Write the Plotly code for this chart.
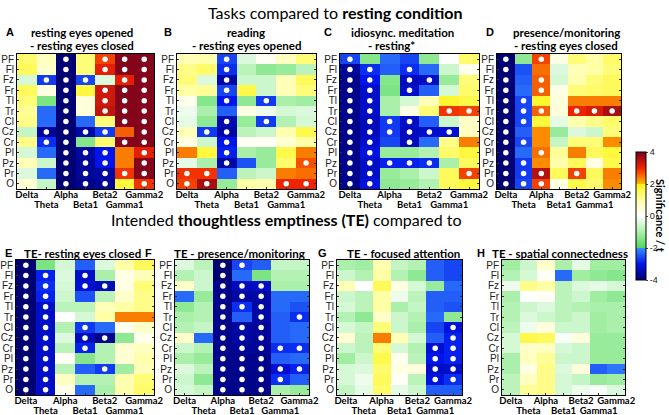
import plotly.graph_objects as go

W, H = 669, 415

bands = ["Delta", "Theta", "Alpha", "Beta1", "Beta2", "Gamma1", "Gamma2"]
channels = ["PF", "Fl", "Fz", "Fr", "Tl", "Tr", "Cl", "Cz", "Cr", "Pl", "Pz", "Pr", "O"]

# ---- values (t), rows = channels, cols = bands ----
vals_A = [
    [1.4, 0.7, -4.0, 1.3, 2.8, 3.9, 3.9],
    [1.5, 0.6, -4.0, 1.3, 3.1, 3.9, 3.9],
    [-0.5, -2.7, -4.0, -2.6, -0.4, 3.1, 3.9],
    [1.5, 0.3, -4.0, 1.7, 3.3, 3.9, 3.9],
    [1.3, -1.5, -4.0, 0.4, 3.3, 3.9, 3.9],
    [1.1, -2.3, -4.0, 0.4, 3.4, 3.9, 3.9],
    [1.2, -2.3, -4.0, -2.3, 1.3, 3.9, 3.9],
    [-0.7, -3.7, -4.0, -3.6, -2.7, 2.6, 3.9],
    [1.2, -2.8, -4.0, -1.4, 1.4, 3.9, 3.9],
    [-0.5, -2.3, -4.0, -3.6, -3.0, 2.4, 3.1],
    [0.8, -0.6, -4.0, -3.7, -3.0, 2.4, 3.9],
    [-0.4, -2.3, -4.0, -3.7, -3.6, 2.9, 3.9],
    [0.5, -0.7, -4.0, -3.8, -3.7, 1.7, 2.9],
]
vals_B = [
    [0.8, 0.9, -2.6, -0.4, 0.1, 0.7, 1.3],
    [1.2, 1.4, -2.8, -0.8, -1.3, -1.2, -0.8],
    [1.3, -0.4, -3.6, -0.6, -0.6, 0.8, 1.5],
    [1.0, 1.1, -2.6, 1.6, -0.6, 0.8, 1.3],
    [0.2, -1.4, -3.0, -1.3, -2.7, -1.0, -1.1],
    [-0.2, -1.0, -2.4, 0.3, -0.2, -0.5, -0.4],
    [-0.3, -1.3, -3.5, -1.2, -2.7, -0.9, -0.5],
    [0.8, -2.7, -3.6, -0.8, -0.6, 0.9, 1.6],
    [0.3, -0.6, -3.0, 0.1, 0.1, 0.5, 1.0],
    [2.4, 1.7, -2.9, -1.0, -1.2, 1.6, 2.4],
    [-0.3, -1.0, -3.6, -2.5, -1.2, 1.4, 2.7],
    [2.9, 2.9, -2.4, -0.8, -0.6, 2.4, 2.5],
    [2.8, 3.6, -1.2, 1.0, 0.9, 3.0, 3.0],
]
vals_C = [
    [-2.6, -1.4, -2.3, -2.6, -1.3, 0.0, 1.4],
    [-3.7, -2.8, -2.4, -2.8, -2.3, -0.6, 0.2],
    [-3.8, -3.0, -1.4, -3.4, -3.3, -1.2, 1.3],
    [-3.8, -3.3, -1.5, -3.3, -2.4, -0.5, 1.4],
    [-3.8, -3.3, -1.0, -0.5, 0.8, 1.8, 1.6],
    [-3.8, -3.3, -1.0, 0.3, 1.3, 2.9, 2.8],
    [-3.8, -3.4, -2.7, -3.3, -2.4, -0.6, 0.6],
    [-3.8, -3.4, -2.7, -3.4, -3.3, -3.2, 0.7],
    [-3.8, -3.3, -2.6, -3.4, -2.3, 1.2, 2.4],
    [-3.8, -3.1, -1.2, -1.2, -0.9, 1.4, 1.7],
    [-3.8, -3.3, -2.9, -2.9, -2.8, -1.0, 1.5],
    [-3.8, -3.3, -1.2, -1.0, -0.6, 1.5, 2.8],
    [-3.8, -3.1, -1.3, -1.2, -0.9, 1.5, 1.7],
]
vals_D = [
    [-4.0, -1.3, 2.8, 0.3, 1.3, 1.0, 1.4],
    [-4.0, -2.5, 2.5, -0.4, 0.8, 1.0, 1.3],
    [-4.0, -2.4, 2.6, -0.5, 0.9, 1.3, 1.5],
    [-4.0, -2.3, 2.6, 0.3, 1.3, 1.4, 1.5],
    [-4.0, -2.6, 1.8, 0.4, 2.4, 2.4, 2.4],
    [-4.0, -2.6, 2.6, 0.4, 3.0, 3.2, 3.6],
    [-4.0, -2.6, 1.7, -0.3, 0.9, 1.2, 1.4],
    [-4.0, -2.4, 2.3, -1.2, -0.4, -0.6, 1.3],
    [-4.0, -2.6, 2.3, -0.7, 1.3, 1.3, 2.3],
    [-4.0, -2.3, 2.5, 1.1, 2.4, 1.5, 1.7],
    [-4.0, -2.7, 2.3, 0.9, 1.5, 0.3, 1.6],
    [-4.0, -2.7, 3.5, 1.5, 2.8, 1.5, 2.4],
    [-4.0, -2.6, 2.8, 0.3, 1.6, 1.4, 2.3],
]
vals_E = [
    [-4.0, -1.5, -0.5, -2.4, -0.4, 1.0, 1.5],
    [-4.0, -2.9, -0.4, -3.3, -1.0, 0.3, 0.8],
    [-4.0, -2.8, -0.5, -3.2, -3.4, 0.3, 1.3],
    [-4.0, -2.9, -0.6, -2.5, -0.8, 0.6, 1.2],
    [-4.0, -3.3, -0.8, -0.8, 0.8, 1.0, 1.2],
    [-4.0, -3.3, 0.0, -0.5, 1.0, 2.4, 2.4],
    [-4.0, -3.3, -0.9, -2.7, -2.3, 0.2, 0.6],
    [-4.0, -3.3, -0.4, -3.4, -3.8, -1.3, 0.2],
    [-4.0, -3.3, -0.8, -2.9, -0.9, 0.5, 0.7],
    [-4.0, -3.3, 0.1, -1.4, -0.9, 0.5, 0.9],
    [-4.0, -3.3, -0.8, -2.4, -2.7, -1.1, 0.8],
    [-4.0, -3.3, 0.7, -0.9, -0.9, 0.9, 1.3],
    [-4.0, -3.3, 0.2, -2.3, -1.0, 0.9, 1.4],
]
vals_F = [
    [-0.4, -0.8, -4.0, -2.6, -2.4, -0.7, -0.7],
    [-0.9, -0.6, -4.0, -2.3, -1.5, -0.9, -0.9],
    [0.6, -0.6, -3.8, -3.4, -3.3, -1.0, -1.0],
    [-2.3, -1.2, -3.8, -3.6, -3.6, -2.3, -2.3],
    [-1.3, -0.9, -3.8, -2.8, -3.6, -2.3, -2.5],
    [-1.0, -0.9, -3.8, -2.4, -3.6, -2.4, -2.8],
    [-0.9, -0.7, -3.8, -3.6, -3.7, -2.4, -2.3],
    [0.6, -2.3, -3.8, -3.6, -3.7, -2.4, -2.3],
    [-0.6, -0.9, -3.8, -3.7, -3.7, -2.8, -2.8],
    [-1.0, -1.2, -3.8, -3.8, -3.8, -2.4, -2.3],
    [-0.4, -0.8, -3.8, -3.8, -3.8, -3.2, -2.9],
    [-0.6, -1.3, -3.8, -3.8, -3.8, -2.8, -2.4],
    [-0.5, -0.7, -3.8, -3.8, -3.8, -1.0, -1.2],
]
vals_G = [
    [-1.0, -1.1, 0.9, -0.7, -0.9, -2.4, -2.6],
    [-0.6, -0.9, 1.0, -0.9, -1.3, -2.4, -2.6],
    [0.8, 0.0, 1.5, 0.3, -0.5, -1.2, -2.3],
    [-0.6, -0.8, 1.0, -0.2, -0.8, -2.4, -2.4],
    [-0.5, -0.8, 1.0, -1.0, -0.7, -2.4, -2.5],
    [-0.9, -1.3, 0.6, -0.6, -0.9, -2.3, -1.3],
    [-0.5, -0.7, 1.3, -0.6, -1.0, -2.6, -3.1],
    [0.5, -0.8, 2.4, 0.8, -0.5, -2.4, -2.9],
    [-0.6, -0.8, 1.3, -0.5, -0.9, -3.2, -2.9],
    [-1.1, -0.6, 1.6, 0.2, -0.8, -3.0, -2.9],
    [-0.5, -0.4, 1.4, 0.3, 0.4, -3.3, -3.3],
    [-0.5, -0.2, 1.5, 0.1, -0.8, -3.1, -2.8],
    [-0.7, -0.3, 1.4, -0.3, -0.6, -2.4, -2.4],
]
vals_H = [
    [-1.1, -0.6, 0.6, -1.0, -0.3, -1.1, -1.1],
    [-0.9, -0.5, 0.1, -2.3, -1.1, -1.3, -1.4],
    [-0.2, 1.2, 1.0, -0.8, -0.4, -0.3, -0.5],
    [-1.0, 0.0, 0.1, -0.8, -0.6, -1.1, -1.3],
    [-0.9, -0.6, -0.4, -0.8, -0.9, -1.0, -1.0],
    [-0.9, -0.4, -0.6, -0.8, -0.6, -1.1, -1.0],
    [-0.8, -0.2, 0.4, -0.6, -0.6, -1.1, -1.0],
    [-0.5, 1.6, 1.5, -0.1, 0.4, -1.2, -1.2],
    [-0.5, 0.6, 0.7, -0.5, -0.6, -1.2, -1.2],
    [-1.0, 0.7, 1.1, -0.6, -0.6, -1.2, -1.2],
    [-1.0, 0.3, 1.2, -0.4, 0.4, -2.4, -2.2],
    [-0.8, 0.7, 1.2, -0.5, -0.7, -1.2, -1.1],
    [-0.8, 1.1, 1.2, -0.5, -0.2, -0.1, -0.4],
]

# ---- significance marks (1 = white dot) ----
sig_A = [
    [0, 0, 1, 0, 1, 1, 1], [0, 0, 1, 0, 1, 1, 1], [0, 1, 1, 1, 0, 1, 1],
    [0, 0, 1, 0, 1, 1, 1], [0, 0, 1, 0, 1, 1, 1], [0, 0, 1, 0, 1, 1, 1],
    [0, 0, 1, 0, 0, 1, 1], [0, 1, 1, 1, 1, 0, 1], [0, 1, 1, 0, 0, 1, 1],
    [0, 0, 1, 1, 1, 0, 1], [0, 0, 1, 1, 1, 0, 1], [0, 0, 1, 1, 1, 1, 1],
    [0, 0, 1, 1, 1, 0, 1],
]
sig_B = [
    [0, 0, 1, 0, 0, 0, 0], [0, 0, 1, 0, 0, 0, 0], [0, 0, 1, 0, 0, 0, 0],
    [0, 0, 1, 0, 0, 0, 0], [0, 0, 1, 0, 1, 0, 0], [0, 0, 0, 0, 0, 0, 0],
    [0, 0, 1, 0, 1, 0, 0], [0, 1, 1, 0, 0, 0, 0], [0, 0, 1, 0, 0, 0, 0],
    [0, 0, 1, 0, 0, 0, 0], [0, 0, 1, 0, 0, 0, 1], [1, 1, 0, 0, 0, 0, 0],
    [1, 1, 0, 0, 0, 1, 1],
]
sig_C = [
    [1, 0, 0, 0, 0, 0, 0], [1, 1, 0, 1, 0, 0, 0], [1, 1, 0, 1, 1, 0, 0],
    [1, 1, 0, 1, 0, 0, 0], [1, 1, 0, 0, 0, 0, 0], [1, 1, 0, 0, 0, 1, 1],
    [1, 1, 1, 1, 0, 0, 0], [1, 1, 1, 1, 1, 1, 0], [1, 1, 0, 1, 0, 0, 0],
    [1, 1, 0, 0, 0, 0, 0], [1, 1, 1, 1, 1, 0, 0], [1, 1, 0, 0, 0, 0, 1],
    [1, 1, 0, 0, 0, 0, 0],
]
sig_D = [
    [1, 0, 1, 0, 0, 0, 0], [1, 0, 0, 0, 0, 0, 0], [1, 0, 1, 0, 0, 0, 0],
    [1, 0, 1, 0, 0, 0, 0], [1, 1, 0, 0, 0, 0, 0], [1, 1, 1, 0, 1, 1, 1],
    [1, 1, 0, 0, 0, 0, 0], [1, 0, 0, 0, 0, 0, 0], [1, 1, 0, 0, 0, 0, 0],
    [1, 0, 1, 0, 0, 0, 0], [1, 1, 0, 0, 0, 0, 0], [1, 1, 1, 0, 1, 0, 0],
    [1, 1, 1, 0, 0, 0, 0],
]
sig_E = [
    [1, 0, 0, 0, 0, 0, 0], [1, 1, 0, 1, 0, 0, 0], [1, 1, 0, 1, 1, 0, 0],
    [1, 1, 0, 0, 0, 0, 0], [1, 1, 0, 0, 0, 0, 0], [1, 1, 0, 0, 0, 0, 0],
    [1, 1, 0, 1, 0, 0, 0], [1, 1, 0, 1, 1, 0, 0], [1, 1, 0, 1, 0, 0, 0],
    [1, 1, 0, 0, 0, 0, 0], [1, 1, 0, 0, 1, 0, 0], [1, 1, 0, 0, 0, 0, 0],
    [1, 1, 0, 0, 0, 0, 0],
]
sig_F = [
    [0, 0, 1, 1, 0, 0, 0], [0, 0, 1, 0, 0, 0, 0], [0, 0, 1, 1, 1, 0, 0],
    [0, 0, 1, 1, 1, 0, 0], [0, 0, 1, 1, 1, 0, 0], [0, 0, 1, 0, 1, 0, 1],
    [0, 0, 1, 1, 1, 0, 0], [0, 0, 1, 1, 1, 0, 0], [0, 0, 1, 1, 1, 1, 1],
    [0, 0, 1, 1, 1, 0, 0], [0, 0, 1, 1, 1, 1, 1], [0, 0, 1, 1, 1, 1, 0],
    [0, 0, 1, 1, 1, 0, 0],
]
sig_G = [
    [0] * 7, [0] * 7, [0] * 7, [0] * 7, [0] * 7, [0] * 7,
    [0, 0, 0, 0, 0, 0, 1], [0, 0, 0, 0, 0, 0, 1], [0, 0, 0, 0, 0, 1, 1],
    [0, 0, 0, 0, 0, 1, 1], [0, 0, 0, 0, 0, 1, 1], [0, 0, 0, 0, 0, 1, 1],
    [0] * 7,
]
sig_H = [[0] * 7 for _ in range(13)]

titles_top = [
    ("A", "resting eyes opened", "- resting eyes closed"),
    ("B", "reading", "- resting eyes opened"),
    ("C", "idiosync. meditation", "- resting*"),
    ("D", "presence/monitoring", "- resting eyes closed"),
]
titles_bottom = [
    ("E", "TE- resting eyes closed"),
    ("F", "TE - presence/monitoring"),
    ("G", "TE - focused attention"),
    ("H", "TE - spatial connectedness"),
]

cb_ticks = [-4, -2, 0, 2, 4]

# ---- layout geometry (pixels) ----
panels = [
    (vals_A, sig_A, (17, 154), (54, 189)),
    (vals_B, sig_B, (177, 316), (54, 189)),
    (vals_C, sig_C, (340, 479), (54, 189)),
    (vals_D, sig_D, (497, 621), (54, 189)),
    (vals_E, sig_E, (16, 154), (260, 395)),
    (vals_F, sig_F, (175, 309), (260, 395)),
    (vals_G, sig_G, (337, 462), (260, 395)),
    (vals_H, sig_H, (502, 625), (260, 395)),
]


def px(x):
    return x / W


def py(y):
    return 1 - y / H


colorscale = [
    [0.0, "rgb(0,0,115)"],
    [0.125, "rgb(0,20,235)"],
    [0.247, "rgb(55,140,255)"],
    [0.25, "rgb(80,215,95)"],
    [0.375, "rgb(170,240,170)"],
    [0.5, "rgb(255,255,255)"],
    [0.625, "rgb(255,255,165)"],
    [0.747, "rgb(255,245,20)"],
    [0.75, "rgb(255,185,0)"],
    [0.875, "rgb(240,35,0)"],
    [1.0, "rgb(120,0,30)"],
]

fig = go.Figure()

even_text = ["<b>%s</b>" % b if i % 2 == 0 else "" for i, b in enumerate(bands)]
odd_bands = [b for i, b in enumerate(bands) if i % 2 == 1]
odd_text = ["<b>%s</b>" % b for b in odd_bands]
tickfont_x = dict(family="Lato", size=9.5, color="black")

NP = len(panels)
for i, (vals, sig, (x0, x1), (y0, y1)) in enumerate(panels):
    n = i + 1
    xa = "x" if n == 1 else "x%d" % n
    ya = "y" if n == 1 else "y%d" % n
    xo = "x%d" % (n + NP)  # overlay axis for the second row of band labels
    fig.add_trace(go.Heatmap(
        z=vals, x=bands, y=channels, coloraxis="coloraxis",
        xaxis=xa, yaxis=ya, hoverinfo="skip",
    ))
    dx, dy = [], []
    for r, ch in enumerate(channels):
        for c, b in enumerate(bands):
            if sig[r][c]:
                dx.append(b)
                dy.append(ch)
    fig.add_trace(go.Scatter(
        x=dx, y=dy, mode="markers", xaxis=xa, yaxis=ya,
        marker=dict(color="white", size=5.5, line=dict(width=0)),
        showlegend=False, hoverinfo="skip",
    ))
    fig.add_trace(go.Scatter(x=[], y=[], xaxis=xo, yaxis=ya, showlegend=False,
                             hoverinfo="skip", mode="markers"))
    xkey = "xaxis" if n == 1 else "xaxis%d" % n
    ykey = "yaxis" if n == 1 else "yaxis%d" % n
    okey = "xaxis%d" % (n + NP)
    fig.layout[xkey] = dict(
        domain=[px(x0), px(x1)], anchor=ya, type="category",
        categoryorder="array", categoryarray=bands,
        range=[-0.5, 6.5], tickvals=bands, ticktext=even_text, tickangle=0,
        tickfont=tickfont_x, ticklabelstandoff=-3,
        showline=True, linecolor="black", linewidth=1, mirror=True,
        ticks="inside", ticklen=2, tickcolor="#333", showgrid=False,
        zeroline=False, fixedrange=True, automargin=False,
    )
    fig.layout[okey] = dict(
        domain=[px(x0), px(x1)], anchor=ya, overlaying=xa, side="bottom",
        type="category", categoryorder="array", categoryarray=bands,
        range=[-0.5, 6.5], tickvals=odd_bands, ticktext=odd_text, tickangle=0,
        tickfont=tickfont_x, ticklabelstandoff=8,
        showline=False, ticks="", showgrid=False, zeroline=False,
        fixedrange=True, automargin=False,
    )
    fig.layout[ykey] = dict(
        domain=[py(y1), py(y0)], anchor=xa, type="category",
        categoryorder="array", categoryarray=channels,
        range=[12.5, -0.5], tickvals=channels, ticktext=channels,
        tickfont=dict(family="Liberation Sans", size=10, color="#222"),
        showline=True, linecolor="black", linewidth=1, mirror="ticks",
        ticks="inside", ticklen=2, tickcolor="#333", showgrid=False,
        zeroline=False, fixedrange=True, automargin=False,
    )

ann = []
# main headings
ann.append(dict(x=px(335), y=py(12), text="Tasks compared to <b>resting condition</b>",
                font=dict(family="Lato", size=16, color="black")))
ann.append(dict(x=px(286), y=py(219), text="Intended <b>thoughtless emptiness (TE)</b> compared to",
                font=dict(family="Lato", size=16, color="black")))

top_centers = [(82, 82), (246, 246), (402, 392), (566, 566)]
letter_x_top = [10, 168, 328, 490]
for (letter, l1, l2), (c1, c2), lx in zip(titles_top, top_centers, letter_x_top):
    ann.append(dict(x=px(lx), y=py(32), text="<b>%s</b>" % letter,
                    font=dict(family="Liberation Sans", size=11, color="black")))
    ann.append(dict(x=px(c1), y=py(32), text="<b>%s</b>" % l1,
                    font=dict(family="Lato", size=11.5, color="black")))
    ann.append(dict(x=px(c2), y=py(46), text="<b>%s</b>" % l2,
                    font=dict(family="Lato", size=11.5, color="black")))

bottom_centers = [82, 239, 403, 560]
letter_x_bottom = [8, 148, 322, 481]
for (letter, l1), c1, lx in zip(titles_bottom, bottom_centers, letter_x_bottom):
    ann.append(dict(x=px(lx), y=py(253), text="<b>%s</b>" % letter,
                    font=dict(family="Liberation Sans", size=11, color="black")))
    ann.append(dict(x=px(c1), y=py(253), text="<b>%s</b>" % l1,
                    font=dict(family="Lato", size=11.5, color="black")))

ann.append(dict(x=px(661), y=py(216), text="<b>Significance / t</b>", textangle=90,
                font=dict(family="Lato", size=11, color="black")))

for a in ann:
    a.update(xref="paper", yref="paper", showarrow=False, xanchor="center", yanchor="middle")

fig.update_layout(
    width=W, height=H, margin=dict(l=0, r=0, t=0, b=0, autoexpand=False),
    paper_bgcolor="white", plot_bgcolor="white", showlegend=False,
    annotations=ann,
    coloraxis=dict(
        colorscale=colorscale, cmin=-4, cmax=4,
        colorbar=dict(
            x=px(636), xanchor="left", y=py(216), yanchor="middle",
            len=128, lenmode="pixels", thickness=10, thicknessmode="pixels",
            outlinewidth=1, outlinecolor="black", xpad=0, ypad=0,
            tickvals=cb_ticks, ticktext=[str(t) for t in cb_ticks],
            ticks="outside", ticklen=2, tickfont=dict(family="Liberation Sans", size=9, color="#222"),
        ),
    ),
)

fig.write_html(
    "out.html",
    config={"displayModeBar": False},
    post_script="document.body.style.margin='0';document.body.style.overflow='hidden';",
)
